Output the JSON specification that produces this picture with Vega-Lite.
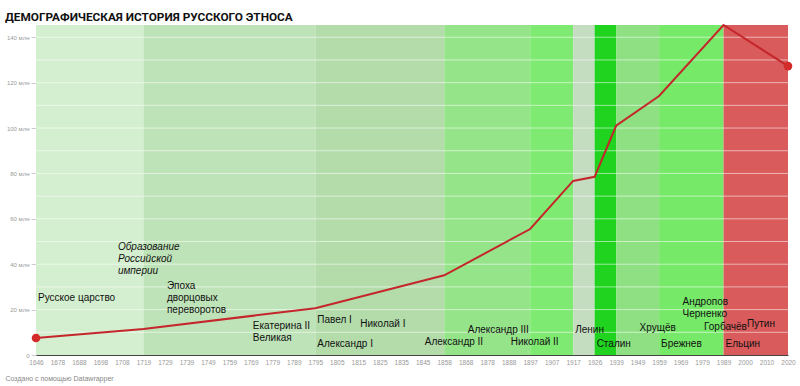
{
  "$schema": "https://vega.github.io/schema/vega-lite/v6.json",
  "width": 752,
  "height": 330,
  "autosize": {"type": "none"},
  "padding": {"left": 36, "top": 25, "right": 12, "bottom": 31},
  "background": "#ffffff",
  "config": {"view": {"stroke": null}, "font": "Liberation Sans"},
  "title": {
    "text": "ДЕМОГРАФИЧЕСКАЯ ИСТОРИЯ РУССКОГО ЭТНОСА",
    "anchor": "start",
    "frame": "group",
    "dx": -31,
    "dy": 22,
    "offset": 8,
    "baseline": "bottom",
    "font": "Roboto",
    "fontSize": 11.8,
    "fontWeight": "bold",
    "color": "#111111"
  },
  "datasets": {
    "bands": [
      {"start": 1646, "end": 1719, "period": "Русское царство"},
      {"start": 1719, "end": 1795, "period": "Дворцовые перевороты"},
      {"start": 1795, "end": 1858, "period": "Павел–Николай I"},
      {"start": 1858, "end": 1897, "period": "Александр II–III"},
      {"start": 1897, "end": 1917, "period": "Николай II"},
      {"start": 1917, "end": 1926, "period": "Ленин"},
      {"start": 1926, "end": 1939, "period": "Сталин"},
      {"start": 1939, "end": 1959, "period": "Хрущёв"},
      {"start": 1959, "end": 1989, "period": "Брежнев–Горбачёв"},
      {"start": 1989, "end": 2020, "period": "Ельцин–Путин"}
    ],
    "grid": [
      {"g": 10}, {"g": 20}, {"g": 30}, {"g": 40}, {"g": 50}, {"g": 60}, {"g": 70},
      {"g": 80}, {"g": 90}, {"g": 100}, {"g": 110}, {"g": 120}, {"g": 130}, {"g": 140}
    ],
    "pop": [
      {"year": 1646, "value": 7.5},
      {"year": 1719, "value": 11.5},
      {"year": 1795, "value": 20.6},
      {"year": 1858, "value": 35.1},
      {"year": 1897, "value": 55.5},
      {"year": 1917, "value": 76.7},
      {"year": 1926, "value": 78.5},
      {"year": 1939, "value": 101},
      {"year": 1959, "value": 114.1},
      {"year": 1989, "value": 145.4},
      {"year": 2020, "value": 127.3}
    ],
    "ends": [
      {"year": 1646, "value": 7.5},
      {"year": 2020, "value": 127.3}
    ],
    "labels": [
      {"year": 1646, "value": 25.1, "label": "Русское царство"},
      {"year": 1729, "value": 30.4, "label": "Эпоха\nдворцовых\nпереворотов"},
      {"year": 1769, "value": 12.8, "label": "Екатерина II\nВеликая"},
      {"year": 1795, "value": 15.4, "label": "Павел I"},
      {"year": 1795, "value": 4.8, "label": "Александр I"},
      {"year": 1815, "value": 13.7, "label": "Николай I"},
      {"year": 1845, "value": 5.7, "label": "Александр II"},
      {"year": 1868, "value": 11, "label": "Александр III"},
      {"year": 1888, "value": 5.7, "label": "Николай II"},
      {"year": 1917, "value": 11, "label": "Ленин"},
      {"year": 1926, "value": 4.8, "label": "Сталин"},
      {"year": 1949, "value": 11.9, "label": "Хрущёв"},
      {"year": 1959, "value": 4.8, "label": "Брежнев"},
      {"year": 1969, "value": 23.3, "label": "Андропов\nЧерненко"},
      {"year": 1979, "value": 12.3, "label": "Горбачёв"},
      {"year": 1989, "value": 4.8, "label": "Ельцин"},
      {"year": 2000, "value": 13.7, "label": "Путин"}
    ],
    "italic": [
      {"year": 1708, "value": 47.6, "label": "Образование\nРоссийской\nимперии"}
    ]
  },
  "layer": [
    {
      "data": {"name": "bands"},
      "mark": {"type": "rect"},
      "encoding": {
        "x": {
          "field": "start",
          "type": "ordinal",
          "scale": {
            "type": "point",
            "padding": 0,
            "domain": [1646, 1678, 1688, 1698, 1708, 1719, 1729, 1739, 1749, 1759, 1769, 1779, 1789, 1795, 1805, 1815, 1825, 1835, 1845, 1858, 1868, 1878, 1888, 1897, 1907, 1917, 1926, 1939, 1949, 1959, 1969, 1979, 1989, 2000, 2010, 2020]
          },
          "axis": {
            "labelAngle": 0,
            "labelFontSize": 6.5,
            "labelColor": "#999999",
            "labelPadding": 4,
            "ticks": false,
            "domainColor": "#444444",
            "domainWidth": 1,
            "title": "Создано с помощью Datawrapper",
            "titleAnchor": "start",
            "titleAlign": "left",
            "titleBaseline": "middle",
            "titleX": -31,
            "titleY": 23,
            "titleFontSize": 7,
            "titleFontWeight": "normal",
            "titleColor": "#888888"
          }
        },
        "x2": {"field": "end"},
        "color": {
          "field": "period",
          "type": "nominal",
          "legend": null,
          "scale": {
            "domain": ["Русское царство", "Дворцовые перевороты", "Павел–Николай I", "Александр II–III", "Николай II", "Ленин", "Сталин", "Хрущёв", "Брежнев–Горбачёв", "Ельцин–Путин"],
            "range": ["#d4efcf", "#bfe3b8", "#b3dcaa", "#96e48a", "#7fea71", "#c4dcbf", "#1fd31f", "#8ee083", "#77e969", "#d95b5b"]
          }
        }
      }
    },
    {
      "data": {"name": "grid"},
      "mark": {"type": "rule", "color": "#ffffff", "opacity": 0.55, "strokeWidth": 1},
      "encoding": {
        "y": {"field": "g", "type": "quantitative"}
      }
    },
    {
      "data": {"name": "pop"},
      "mark": {"type": "line", "color": "#c4262b", "strokeWidth": 2},
      "encoding": {
        "x": {"field": "year", "type": "ordinal"},
        "y": {
          "field": "value",
          "type": "quantitative",
          "scale": {"domain": [0, 145.4], "nice": false, "zero": true},
          "axis": {
            "values": [0, 10, 20, 30, 40, 50, 60, 70, 80, 90, 100, 110, 120, 130, 140],
            "labelExpr": "datum.value == 0 ? '0' : datum.value + ' млн'",
            "labelFontSize": 6,
            "labelColor": "#999999",
            "labelPadding": 2,
            "tickSize": 5,
            "tickColor": "#cccccc",
            "domain": false,
            "grid": false,
            "title": null
          }
        }
      }
    },
    {
      "data": {"name": "ends"},
      "mark": {"type": "circle", "color": "#d32a2a", "opacity": 1, "size": 75},
      "encoding": {
        "x": {"field": "year", "type": "ordinal"},
        "y": {"field": "value", "type": "quantitative"}
      }
    },
    {
      "data": {"name": "labels"},
      "mark": {"type": "text", "align": "left", "baseline": "middle", "dx": 2, "fontSize": 10, "lineHeight": 12, "lineBreak": "\n", "color": "#111111"},
      "encoding": {
        "x": {"field": "year", "type": "ordinal"},
        "y": {"field": "value", "type": "quantitative"},
        "text": {"field": "label"}
      }
    },
    {
      "data": {"name": "italic"},
      "mark": {"type": "text", "align": "left", "baseline": "middle", "dx": -4, "fontSize": 10, "fontStyle": "italic", "lineHeight": 12, "lineBreak": "\n", "color": "#111111"},
      "encoding": {
        "x": {"field": "year", "type": "ordinal"},
        "y": {"field": "value", "type": "quantitative"},
        "text": {"field": "label"}
      }
    }
  ]
}
